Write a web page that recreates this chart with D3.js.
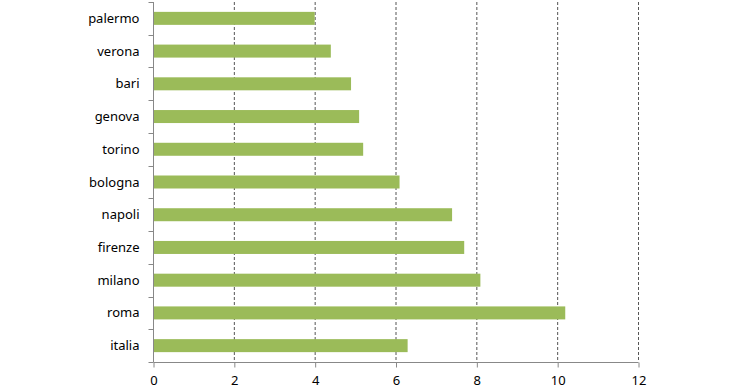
<!DOCTYPE html>
<html>
<head>
<meta charset="utf-8">
<script src="https://cdn.jsdelivr.net/npm/d3@7"></script>
<style>
  body { margin: 0; background: #fff; }
  text { font-family: "Noto Sans", "Open Sans", Arial, sans-serif; }
</style>
</head>
<body>
<div class="bar-chart"></div>
<script>
const cities = ['palermo', 'verona', 'bari', 'genova', 'torino', 'bologna', 'napoli', 'firenze', 'milano', 'roma', 'italia'];
const values = [4.0, 4.4, 4.9, 5.1, 5.2, 6.1, 7.4, 7.7, 8.1, 10.2, 6.3];
const xTicks = [0, 2, 4, 6, 8, 10, 12];

const data = cities.map((c, i) => ({city: c, value: values[i]}));

const margin = ({top: 2, bottom: 27, right: 102, left: 153});
const width = 740 - margin.left - margin.right;
const height = 389 - margin.top - margin.bottom;

const svg = d3.select('.bar-chart')
    .append('svg')
    .attr('width', 740)
    .attr('height', 389)
    .append('g')
    .attr('transform', `translate(${margin.left},${margin.top})`);

const xScale = d3.scaleLinear()
    .domain([0, 12])
    .range([0, width]);

const yScale = d3.scaleBand()
    .domain(cities)
    .range([0, height]);

// dashed gridlines
svg.selectAll('.grid')
    .data(xTicks.slice(1))
    .enter()
    .append('line')
    .attr('class', 'grid')
    .attr('x1', d => xScale(d) + 0.5)
    .attr('x2', d => xScale(d) + 0.5)
    .attr('y1', 0)
    .attr('y2', height)
    .attr('stroke', '#555')
    .attr('stroke-width', 1)
    .attr('stroke-dasharray', '3,2');

svg.selectAll('rect')
    .data(data)
    .enter()
    .append('rect')
    .attr('x', 1)
    .attr('y', d => yScale(d.city) + yScale.bandwidth() / 2 - 6.5)
    .attr('width', d => xScale(d.value) - 1)
    .attr('height', 13)
    .attr('fill', '#9bbb59');

const xAxis = d3.axisBottom(xScale)
    .tickValues(xTicks)
    .tickSize(5)
    .tickPadding(8);

svg.append('g')
    .attr('class', 'axis x-axis')
    .attr('transform', `translate(0.5,${height + 0.5})`)
    .call(xAxis)
    .call(g => g.select('.domain').attr('stroke', '#888').attr('d', `M0,0H${width}`))
    .call(g => g.selectAll('.tick line').attr('stroke', '#888'))
    .call(g => g.selectAll('.tick text').attr('font-size', 13).attr('fill', '#000'));

// y axis with ticks on band boundaries
const yAxis = svg.append('g')
    .attr('class', 'axis y-axis')
    .attr('transform', 'translate(0.5,0)');

yAxis.append('line')
    .attr('x1', 0).attr('x2', 0)
    .attr('y1', 0).attr('y2', height)
    .attr('stroke', '#888');

yAxis.selectAll('.ytick')
    .data(d3.range(cities.length + 1))
    .enter()
    .append('line')
    .attr('class', 'ytick')
    .attr('x1', -5).attr('x2', 0)
    .attr('y1', i => Math.round(i * yScale.step()) + 0.5)
    .attr('y2', i => Math.round(i * yScale.step()) + 0.5)
    .attr('stroke', '#888');

yAxis.selectAll('text')
    .data(cities)
    .enter()
    .append('text')
    .attr('x', -14)
    .attr('y', d => yScale(d) + yScale.bandwidth() / 2)
    .attr('dy', '0.35em')
    .attr('text-anchor', 'end')
    .attr('font-size', 13)
    .attr('fill', '#000')
    .text(d => d);
</script>
</body>
</html>
